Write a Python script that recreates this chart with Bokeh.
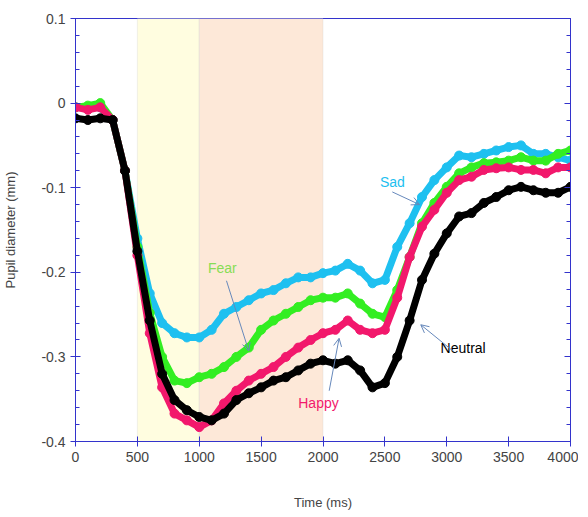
from bokeh.plotting import figure
from bokeh.models import LinearAxis, BoxAnnotation, Arrow, OpenHead, Label, FixedTicker
from bokeh.embed import file_html
from bokeh.resources import INLINE

time_ms = list(range(0, 4001, 100))
sad = [-0.005, -0.005, -0.005, -0.02, -0.08, -0.16, -0.225, -0.26, -0.272, -0.277, -0.277,
       -0.268, -0.249, -0.241, -0.233, -0.225, -0.221, -0.213, -0.206, -0.206, -0.201,
       -0.198, -0.19, -0.198, -0.213, -0.209, -0.17, -0.142, -0.111, -0.091, -0.076,
       -0.062, -0.064, -0.06, -0.056, -0.052, -0.05, -0.06, -0.06, -0.064, -0.068]
fear = [-0.005, -0.003, 0.0, -0.02, -0.08, -0.17, -0.248, -0.30, -0.328, -0.331, -0.324,
        -0.32, -0.312, -0.30, -0.289, -0.268, -0.257, -0.249, -0.241, -0.233, -0.23,
        -0.23, -0.225, -0.237, -0.249, -0.253, -0.221, -0.182, -0.142, -0.118, -0.099,
        -0.083, -0.076, -0.071, -0.07, -0.068, -0.064, -0.068, -0.068, -0.06, -0.056]
happy = [-0.005, -0.008, -0.005, -0.02, -0.08, -0.18, -0.272, -0.336, -0.367, -0.375, -0.383,
         -0.375, -0.355, -0.34, -0.328, -0.32, -0.312, -0.30, -0.289, -0.28, -0.272,
         -0.268, -0.257, -0.268, -0.272, -0.268, -0.23, -0.182, -0.146, -0.126, -0.106,
         -0.091, -0.087, -0.079, -0.077, -0.076, -0.079, -0.079, -0.083, -0.076, -0.076]
neutral = [-0.018, -0.02, -0.018, -0.02, -0.08, -0.175, -0.257, -0.32, -0.351, -0.363, -0.371,
           -0.375, -0.367, -0.351, -0.343, -0.336, -0.328, -0.324, -0.316, -0.308, -0.304,
           -0.308, -0.304, -0.316, -0.336, -0.331, -0.30, -0.257, -0.209, -0.178, -0.154,
           -0.134, -0.13, -0.118, -0.111, -0.103, -0.099, -0.103, -0.106, -0.106, -0.099]

series = [("Sad", sad, "#1ec0f0"), ("Fear", fear, "#33ee22"),
          ("Happy", happy, "#f2186c"), ("Neutral", neutral, "black")]

axis_blue = "#3333cc"
y_major = [-0.4, -0.3, -0.2, -0.1, 0, 0.1]
y_minor = [round(-0.4 + 0.02 * i, 2) for i in range(26)]

p = figure(frame_width=495, frame_height=423, x_range=(0, 4000), y_range=(-0.4, 0.1),
           output_backend="svg", toolbar_location=None,
           min_border_left=75, min_border_right=8, min_border_top=18, min_border_bottom=20,
           x_axis_label="Time (ms)", y_axis_label="Pupil diameter (mm)")
p.grid.visible = False
p.outline_line_color = axis_blue
p.background_fill_color = "white"

p.add_layout(BoxAnnotation(left=500, right=1000, fill_color="#fffde0", fill_alpha=1, level="underlay"))
p.add_layout(BoxAnnotation(left=1000, right=2000, fill_color="#fde8d8", fill_alpha=1, level="underlay"))

for name, vals, col in series:
    p.line(time_ms, vals, line_color=col, line_width=7)
    p.scatter(time_ms, vals, size=9, fill_color=col, line_color=col)

for ax in (p.xaxis[0], p.yaxis[0]):
    ax.axis_line_color = axis_blue
    ax.major_tick_line_color = axis_blue
    ax.minor_tick_line_color = axis_blue
    ax.major_tick_in = 5
    ax.major_tick_out = 5
    ax.minor_tick_in = 4
    ax.minor_tick_out = 0
    ax.major_label_text_font = "Liberation Sans"
    ax.major_label_text_font_size = "14px"
    ax.axis_label_text_font = "Liberation Sans"
    ax.axis_label_text_font_size = "13px"
    ax.axis_label_text_font_style = "normal"

p.xaxis.ticker = FixedTicker(ticks=list(range(0, 4001, 500)), minor_ticks=[])
p.yaxis.ticker = FixedTicker(ticks=y_major, minor_ticks=y_minor)
p.yaxis.major_label_overrides = {-0.4: "-0.4", -0.3: "-0.3", -0.2: "-0.2", -0.1: "-0.1", 0: "0", 0.1: "0.1"}
p.xaxis.axis_label_standoff = 30
p.yaxis.axis_label_standoff = 20

right = LinearAxis(ticker=FixedTicker(ticks=y_major, minor_ticks=y_minor))
right.axis_line_color = axis_blue
right.major_tick_line_color = axis_blue
right.minor_tick_line_color = axis_blue
right.major_tick_in = 6
right.major_tick_out = 0
right.minor_tick_in = 4
right.minor_tick_out = 0
right.major_label_text_font_size = "0px"
p.add_layout(right, "right")

arrow_col = "#6688bb"
notes = [("Sad", 2460, -0.093, "#1ec0f0", 2560, -0.105, 2780, -0.12),
         ("Fear", 1070, -0.195, "#88dd55", 1220, -0.21, 1400, -0.293),
         ("Happy", 1800, -0.355, "#f2186c", 2050, -0.34, 2130, -0.278),
         ("Neutral", 2950, -0.29, "black", 3050, -0.293, 2790, -0.262)]
for txt, tx, ty, col, x0, y0, x1, y1 in notes:
    p.add_layout(Label(x=tx, y=ty, text=txt, text_color=col, text_font="Liberation Sans",
                       text_font_size="14px", text_align="left", text_baseline="middle"))
    p.add_layout(Arrow(x_start=x0, y_start=y0, x_end=x1, y_end=y1, line_color=arrow_col, line_width=1,
                       end=OpenHead(size=8, line_color=arrow_col, line_width=1)))

open("out.html", "w").write(file_html(p, INLINE))
